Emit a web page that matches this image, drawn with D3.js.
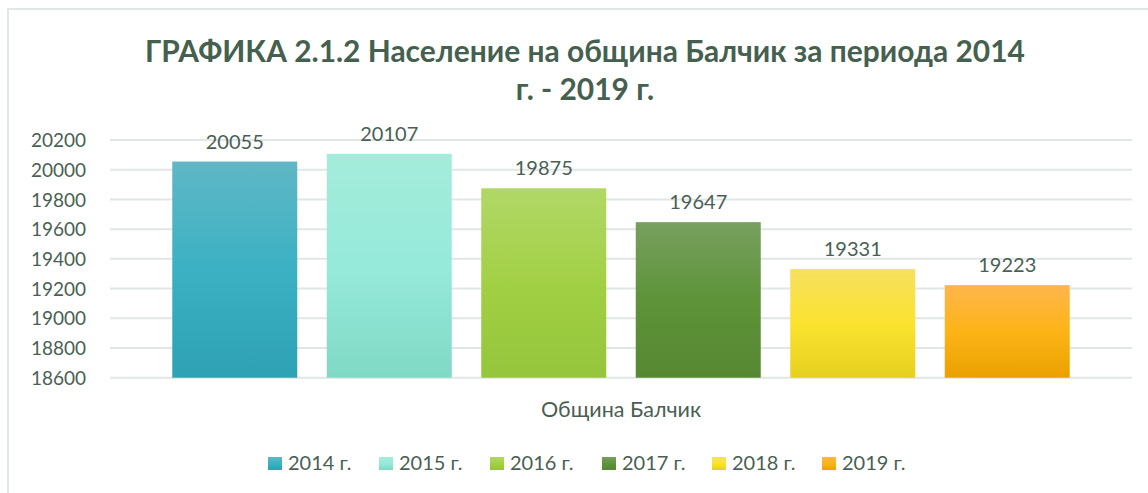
<!DOCTYPE html>
<html>
<head>
<meta charset="utf-8">
<script src="https://cdn.jsdelivr.net/npm/d3@7"></script>
<style>
  html, body { margin: 0; padding: 0; background: #fff; }
  svg { display: block; }
  text { font-family: Lato, "Open Sans", sans-serif; }
</style>
</head>
<body>
<svg id="chart" width="1148" height="493"></svg>
<script>
// ---- data ----
const years = ["2014 г.", "2015 г.", "2016 г.", "2017 г.", "2018 г.", "2019 г."];
const population = [20055, 20107, 19875, 19647, 19331, 19223];
const category = "Община Балчик";
const yTicks = [18600, 18800, 19000, 19200, 19400, 19600, 19800, 20000, 20200];
const titleLines = ["ГРАФИКА 2.1.2 Население на община Балчик за периода 2014", "г. - 2019 г."];
// gradient colours: top, middle, bottom
const gradTop = ["#60b7c5", "#a4ecda", "#b1d867", "#77a05f", "#f6e05f", "#fdb64c"];
const gradMid = ["#3bb1c3", "#96eada", "#a2d045", "#5e9339", "#fbe330", "#fdb417"];
const gradBot = ["#2ea1b4", "#7fd9c4", "#94c53a", "#568832", "#e6d01f", "#e9a000"];

const textColor = "#4a5f54";
const titleColor = "#46604f";
const gridColor = "#e1e7e4";

const svg = d3.select("#chart");

// chart border
svg.append("path")
  .attr("d", "M8,493 L8,9 L1148,9")
  .attr("fill", "none").attr("stroke", gridColor).attr("stroke-width", 2);

// title
const title = svg.append("g");
title.selectAll("text").data(titleLines).join("text")
  .attr("x", 585)
  .attr("y", (d, i) => 62 + i * 38)
  .attr("text-anchor", "middle")
  .attr("fill", titleColor)
  .attr("font-weight", "bold")
  .attr("font-size", 28)
  .text(d => d);
const t0 = title.select("text").node();
const w0 = t0.getComputedTextLength();
title.selectAll("text").attr("font-size", 28 * 880 / w0);

// scales
const x = d3.scaleBand().domain(years).range([110, 1132]).paddingInner(0.191).paddingOuter(0.403);
const y = d3.scaleLinear().domain([18600, 20200]).range([377.7, 140]);

// gridlines
svg.append("g").selectAll("line").data(yTicks).join("line")
  .attr("x1", 110).attr("x2", 1132)
  .attr("y1", d => y(d)).attr("y2", d => y(d))
  .attr("stroke", gridColor).attr("stroke-width", 2);

// y axis labels
const yAxis = d3.axisLeft(y).tickValues(yTicks).tickSize(0).tickPadding(0).tickFormat(d3.format("d"));
const ya = svg.append("g").attr("transform", "translate(86,0)").call(yAxis);
ya.select(".domain").remove();
ya.selectAll("text").attr("fill", textColor).attr("font-size", 19)
  .attr("font-family", "Lato, 'Open Sans', sans-serif").attr("dy", "0.35em");

// gradients
const defs = svg.append("defs");
years.forEach((yr, i) => {
  const g = defs.append("linearGradient").attr("id", "g" + i)
    .attr("x1", 0).attr("y1", 0).attr("x2", 0).attr("y2", 1);
  g.append("stop").attr("offset", "0%").attr("stop-color", gradTop[i]);
  g.append("stop").attr("offset", "50%").attr("stop-color", gradMid[i]);
  g.append("stop").attr("offset", "100%").attr("stop-color", gradBot[i]);
});

// bars
svg.append("g").selectAll("rect").data(population).join("rect")
  .attr("x", (d, i) => x(years[i]))
  .attr("width", x.bandwidth())
  .attr("y", d => y(d))
  .attr("height", d => y(18600) - y(d))
  .attr("fill", (d, i) => `url(#g${i})`);

// data labels
svg.append("g").selectAll("text").data(population).join("text")
  .attr("x", (d, i) => x(years[i]) + x.bandwidth() / 2)
  .attr("y", d => y(d) - 13)
  .attr("text-anchor", "middle")
  .attr("fill", textColor)
  .attr("font-size", 20)
  .text(d => d);

// category label
svg.append("text")
  .attr("x", 621).attr("y", 417)
  .attr("text-anchor", "middle")
  .attr("fill", textColor)
  .attr("font-size", 21.5)
  .text(category);

// legend
const legX = [268, 379, 490, 602, 712, 822];
const leg = svg.append("g").selectAll("g").data(years).join("g")
  .attr("transform", (d, i) => `translate(${legX[i]},457)`);
leg.append("rect").attr("width", 14).attr("height", 13)
  .attr("fill", (d, i) => `url(#g${i})`);
leg.append("text").attr("x", 20).attr("y", 13)
  .attr("fill", textColor).attr("font-size", 20)
  .text(d => d);
</script>
</body>
</html>
